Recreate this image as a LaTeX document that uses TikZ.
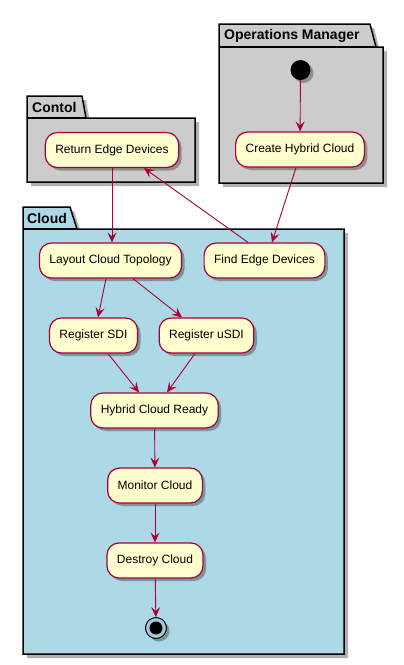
\documentclass[tikz,border=0pt]{standalone}
\usepackage{fontspec}
\setmainfont{Liberation Sans}
\usetikzlibrary{arrows.meta,calc,shadows}
\definecolor{puml}{HTML}{A80036}
\definecolor{actfill}{HTML}{FEFECE}
\definecolor{pkgrey}{HTML}{CCCCCC}
\definecolor{cloudblue}{HTML}{ADD8E6}
\begin{document}
\begin{tikzpicture}[x=1pt,y=-1pt,
  act/.style={draw=puml, line width=1.2pt, fill=actfill, rounded corners=12pt,
    minimum height=35pt, inner xsep=10pt, font=\fontsize{12}{14}\selectfont,
    drop shadow={shadow xshift=3pt,shadow yshift=-3pt,fill=black,opacity=0.3}},
  flow/.style={draw=puml, line width=0.9pt, -{Stealth[length=10pt,width=9pt,inset=4pt]}},
  pkg/.style={draw=black, line width=1.5pt},
  pkgshadow/.style={fill=black, opacity=0.3, shift={(4,4)}},
  pkgtitle/.style={font=\bfseries\fontsize{14}{16}\selectfont, anchor=west, inner sep=0pt}]
\useasboundingbox (0,0) rectangle (404,665);
\fill[white] (0,0) rectangle (404,665);

% Operations Manager package
\fill[pkgshadow] (219,183) -- (219,24) -- (370,24) -- (376,47) -- (383,47) -- (383,183) -- cycle;
\filldraw[pkg, fill=pkgrey] (219,183) -- (219,24) -- (370,24) -- (376,47) -- (383,47) -- (383,183) -- cycle;
\draw[pkg] (219,47) -- (376,47);
\node[pkgtitle] (opstitle) at (224,36) {Operations Manager};

% Contol package
\fill[pkgshadow] (27,182) -- (27,96) -- (82,96) -- (86,118) -- (195,118) -- (195,182) -- cycle;
\filldraw[pkg, fill=pkgrey] (27,182) -- (27,96) -- (82,96) -- (86,118) -- (195,118) -- (195,182) -- cycle;
\draw[pkg] (27,118) -- (86,118);
\node[pkgtitle] (contoltitle) at (32,107) {Contol};

% Cloud package
\fill[pkgshadow] (23,654) -- (23,207) -- (70,207) -- (77,229) -- (344,229) -- (344,654) -- cycle;
\filldraw[pkg, fill=cloudblue] (23,654) -- (23,207) -- (70,207) -- (77,229) -- (344,229) -- (344,654) -- cycle;
\draw[pkg] (23,229) -- (77,229);
\node[pkgtitle] (cloudtitle) at (27,218) {Cloud};

% nodes
\node[circle, fill=black, minimum size=20pt, inner sep=0pt,
  drop shadow={shadow xshift=3pt,shadow yshift=-3pt,fill=black,opacity=0.3}] (start) at (300.5,70) {};
\node[act] (create) at (300,149.5) {Create Hybrid Cloud};
\node[act] (ret) at (112,150) {Return Edge Devices};
\node[act] (layout) at (110.5,260.5) {Layout Cloud Topology};
\node[act] (find) at (264.5,260.5) {Find Edge Devices};
\node[act] (sdi) at (93.5,335.5) {Register SDI};
\node[act] (usdi) at (206.5,335.5) {Register uSDI};
\node[act] (ready) at (154.5,410.5) {Hybrid Cloud Ready};
\node[act] (monitor) at (155,485.5) {Monitor Cloud};
\node[act] (destroy) at (155,560.5) {Destroy Cloud};
\node[circle, draw=black, line width=1pt, fill=cloudblue!85!gray, minimum size=21pt, inner sep=0pt,
  drop shadow={shadow xshift=3pt,shadow yshift=-3pt,fill=black,opacity=0.3}] (stop) at (156,628) {};
\fill[black] (stop.center) circle (6.5);

% connectors
\draw[flow] (start) -- (create);
\draw[flow] ($(create.south)+(-4,0)$) -- ($(find.north)+(7.5,0)$);
\draw[flow] ($(find.north)+(-16.5,0)$) -- ($(ret.south)+(32,0)$);
\draw[flow] (ret.south) -- (ret.south |- layout.north);
\draw[flow] ($(layout.south)+(-4.5,0)$) -- ($(sdi.north)+(4.5,0)$);
\draw[flow] ($(layout.south)+(22.5,0)$) -- ($(usdi.north)+(-24.5,0)$);
\draw[flow] ($(sdi.south)+(14.5,0)$) -- ($(ready.north)+(-15.5,0)$);
\draw[flow] ($(usdi.south)+(-11.5,0)$) -- ($(ready.north)+(12.5,0)$);
\draw[flow] (ready) -- (monitor);
\draw[flow] (monitor) -- (destroy);
\draw[flow] (destroy) -- (stop);
\end{tikzpicture}
\end{document}
